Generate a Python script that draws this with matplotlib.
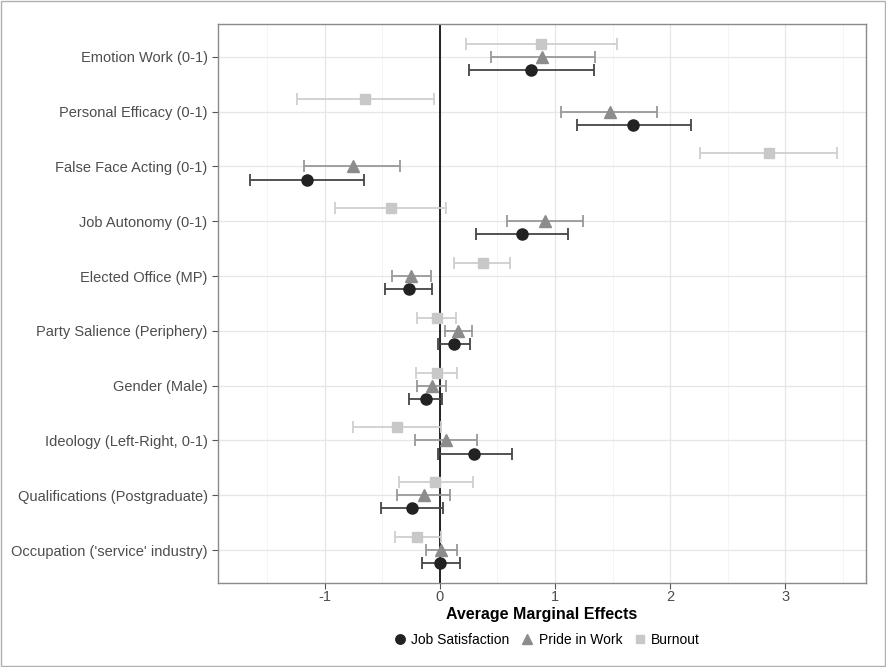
import numpy as np
import matplotlib
matplotlib.use("Agg")
import matplotlib.pyplot as plt
from matplotlib.ticker import MultipleLocator

plt.rcParams['font.family'] = ['Liberation Sans', 'DejaVu Sans']
plt.rcParams['axes.unicode_minus'] = False

# 변수 이름 (위에서 아래 순서)
labels = ["Emotion Work (0-1)", "Personal Efficacy (0-1)", "False Face Acting (0-1)",
          "Job Autonomy (0-1)", "Elected Office (MP)", "Party Salience (Periphery)",
          "Gender (Male)", "Ideology (Left-Right, 0-1)", "Qualifications (Postgraduate)",
          "Occupation ('service' industry)"]

# Job Satisfaction
js_est = [0.79, 1.68, -1.16, 0.71, -0.27, 0.12, -0.12, 0.30, -0.24, 0.00]
js_lo = [0.25, 1.19, -1.65, 0.31, -0.48, -0.02, -0.27, -0.02, -0.51, -0.16]
js_hi = [1.34, 2.18, -0.66, 1.11, -0.07, 0.26, 0.02, 0.63, 0.03, 0.17]

# Pride in Work
pw_est = [0.89, 1.48, -0.76, 0.91, -0.25, 0.16, -0.07, 0.05, -0.14, 0.01]
pw_lo = [0.44, 1.05, -1.18, 0.58, -0.42, 0.04, -0.20, -0.22, -0.37, -0.12]
pw_hi = [1.35, 1.89, -0.35, 1.24, -0.08, 0.28, 0.05, 0.32, 0.09, 0.15]

# Burnout
bo_est = [0.88, -0.65, 2.86, -0.43, 0.37, -0.03, -0.03, -0.37, -0.04, -0.20]
bo_lo = [0.23, -1.24, 2.26, -0.91, 0.12, -0.20, -0.21, -0.76, -0.36, -0.39]
bo_hi = [1.54, -0.05, 3.45, 0.05, 0.61, 0.14, 0.15, 0.01, 0.29, 0.01]

series = [
    ("Job Satisfaction", js_est, js_lo, js_hi, "o", "#222222", "#444444", 0.24, 8),
    ("Pride in Work", pw_est, pw_lo, pw_hi, "^", "#8c8c8c", "#999999", 0.0, 8.5),
    ("Burnout", bo_est, bo_lo, bo_hi, "s", "#c8c8c8", "#cfcfcf", -0.24, 7),
]

fig = plt.figure(figsize=(8.86, 6.67), dpi=100)
ax = fig.add_axes([0.246, 0.126, 0.731, 0.838])

ypos = np.arange(len(labels))
ax.axvline(0, color="black", lw=1.2, zorder=2)

handles = []
for name, est, lo, hi, mk, col, ecol, off, ms in series:
    est = np.array(est); lo = np.array(lo); hi = np.array(hi)
    ax.errorbar(est, ypos + off, xerr=[est - lo, hi - est], fmt="none",
                ecolor=ecol, elinewidth=1.3, capsize=4, capthick=1.3, zorder=3)
    h, = ax.plot(est, ypos + off, linestyle="none", marker=mk, color=col,
                 markersize=ms, zorder=4, label=name)
    handles.append(h)

ax.set_xlim(-1.93, 3.70)
ax.set_ylim(len(labels) - 0.4, -0.6)
ax.set_yticks(ypos)
ax.set_yticklabels(labels)
ax.xaxis.set_major_locator(MultipleLocator(1))
ax.xaxis.set_minor_locator(MultipleLocator(0.5))
ax.set_xticklabels([], minor=True)
ax.grid(True, which="major", color="#e6e6e6", lw=0.9, zorder=0)
ax.grid(True, which="minor", axis="x", color="#f2f2f2", lw=0.6, zorder=0)
ax.set_axisbelow(True)
ax.tick_params(axis="both", which="major", labelsize=10.5, labelcolor="#4d4d4d",
               color="#555555", length=4, width=0.8)
ax.tick_params(axis="x", which="major", pad=1)
ax.tick_params(axis="x", which="minor", length=0)
for s in ax.spines.values():
    s.set_color("#8a8a8a")
    s.set_linewidth(1.0)

ax.set_xlabel("Average Marginal Effects", fontsize=11.5, fontweight="bold", labelpad=2)

fig.legend(handles=handles, loc="center", bbox_to_anchor=(0.617, 0.04), ncol=3,
           frameon=False, fontsize=10, handlelength=1.0, handletextpad=0.3,
           columnspacing=0.8, markerscale=0.85)

# 그림 테두리
fig.patches.append(plt.Rectangle((0.001, 0.001), 0.998, 0.998, transform=fig.transFigure,
                                 fill=False, edgecolor="#b0b0b0", lw=1.0))

fig.savefig("out.png", dpi=100)
